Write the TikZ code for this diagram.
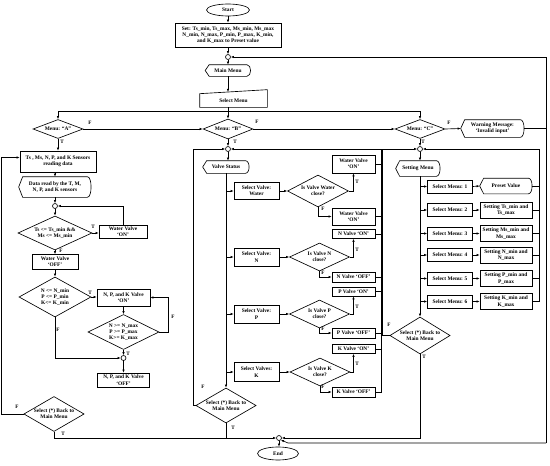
\documentclass[tikz,border=0pt]{standalone}
\usepackage{fontspec}
\setmainfont{Liberation Serif}
\usetikzlibrary{shapes.geometric,arrows.meta}

% display frame: pointed left end, rounded right end
\newcommand{\dispframe}[1]{%
  \draw (#1.west) -- ([xshift=4pt]#1.north west) -- ([xshift=-4pt]#1.north east)
    .. controls ([xshift=1pt]#1.north east) and ([xshift=1pt]#1.south east) .. ([xshift=-4pt]#1.south east)
    -- ([xshift=4pt]#1.south west) -- cycle;}
% manual input frame: slanted top
\newcommand{\manframe}[1]{%
  \draw (#1.south west) -- (#1.north west) -- ([yshift=4pt]#1.north east) -- (#1.south east) -- cycle;}

\begin{document}
\begin{tikzpicture}[
  font=\fontsize{5.4}{6.3}\selectfont\bfseries,
  x=1pt, y=-1pt,
  line width=0.65pt,
  box/.style={draw, align=center, inner sep=0.8pt},
  disp/.style={align=center, inner sep=0.8pt},
  dec/.style={draw, diamond, align=center, inner sep=0pt, aspect=2},
  term/.style={draw, ellipse, inner sep=0pt},
  jn/.style={draw, circle, fill=white, inner sep=0pt, minimum size=5pt},
  lbl/.style={inner sep=0pt, font=\fontsize{5.2}{6}\selectfont\bfseries},
  arr/.style={-{Latex[length=3pt,width=2.4pt]}}
]
\useasboundingbox (0,0) rectangle (550,466);

% ---- start and main menu ----
\node[term, minimum width=43pt, minimum height=12pt] (start) at (228,10) {Start};
\node[box, minimum width=106pt, minimum height=24pt] (preset) at (228,35)
  {Set: Ts\_min, Ts\_max, Ms\_min, Ms\_max\\N\_min, N\_max, P\_min, P\_max, K\_min,\\and K\_max to Preset value};
\node[jn] (j0) at (228,57) {};
\node[disp, minimum width=45pt, minimum height=11pt] (mainm) at (228,70.5) {Main Menu};
\dispframe{mainm}
\node[disp, minimum width=67pt, minimum height=13pt] (selm) at (233.5,100.5) {Select Menu};
\manframe{selm}
\coordinate (dist) at (228,111);

\draw[arr] (start) -- (preset);
\draw[arr] (preset) -- (j0);
\draw[arr] (j0) -- (mainm);
\draw[arr] (mainm.south) -- ([yshift=1.7pt]mainm.south |- selm.north);

% ---- menu choices (y = 129) ----
\node[dec, minimum width=50pt, minimum height=19pt] (mA) at (58,129) {Menu: ``A''};
\node[dec, minimum width=50pt, minimum height=20pt] (mB) at (228,129) {Menu: ``B''};
\node[dec, minimum width=50pt, minimum height=19pt] (mC) at (420,129) {Menu: ``C''};
\node[disp, minimum width=63pt, minimum height=17pt] (warn) at (492.5,128.5) {Warning Message:\\`Invalid input'};
\dispframe{warn}

\draw[arr] (mainm.south |- selm.south) -- (mB.north);
\draw[arr] (dist) -| (mA.north);
\draw[arr] (dist) -| (mC.north);
\draw[arr] (mA.east) -- (mB.west);
\draw[arr] (mB.east) -- (mC.west);
\draw[arr] (mC.east) -- (warn.west);
\node[lbl] (fA) at (90,123) {F};
\node[lbl] (fB) at (257,122) {F};
\node[lbl] (fC) at (449,123) {F};
\node[lbl] (tA) at (62,142) {T};
\node[lbl] (tB) at (235,142) {T};
\node[lbl] (tC) at (423,142) {T};

% ---- menu A: sensors ----
\node[box, minimum width=76pt, minimum height=21pt] (sens) at (58,161.5) {Ts , Ms, N, P, and K Sensors\\reading data};
\node[disp, minimum width=72pt, minimum height=20pt] (dread) at (55,187) {Data read by the T, M,\\N, P, and K sensors};
\dispframe{dread}
\node[jn] (j1) at (55,206) {};
\node[dec, minimum width=74pt, minimum height=34pt] (d1) at (55,233) {Ts <= Ts\_min \&\&\\Ms <= Ms\_min};
\node[box, minimum width=48pt, minimum height=13pt] (wvon) at (123,231.5) {Water Valve\\`ON'};
\node[box, minimum width=46pt, minimum height=15pt] (wvoff) at (55,262) {Water Valve\\`OFF'};
\node[dec, minimum width=72pt, minimum height=40pt] (d2) at (55,297) {N <= N\_min\\P <= P\_min\\K<= K\_min};
\node[box, minimum width=53pt, minimum height=17pt] (npkon) at (123.5,297.5) {N, P, and K Valve\\`ON'};
\node[dec, minimum width=71pt, minimum height=35pt] (d3) at (123.5,332) {N >= N\_max\\P >= P\_max\\K>= K\_max};
\node[jn] (j2) at (123.5,358) {};
\node[box, minimum width=52pt, minimum height=14pt] (npkoff) at (123.5,380) {N, P, and K Valve\\`OFF'};
\node[dec, minimum width=55pt, minimum height=35pt] (sel1) at (54,414) {Select (*) Back to\\Main Menu};

\draw[arr] (mA.south) -- (mA.south |- sens.north);
\draw[arr] (sens.south -| dread) -- (dread.north);
\draw[arr] (dread) -- (j1);
\draw[arr] (j1) -- (d1);
\draw[arr] (d1.east) -- (d1.east -| wvon.west);
\draw[arr] (wvon.north) |- (j1.east);
\draw[arr] (d1.south) -- (wvoff.north);
\draw[arr] (wvoff) -- (d2);
\draw[arr] (d2.east) -- (d2.east -| npkon.west);
\draw[arr] (npkon) -- (d3);
\draw[arr] (d3.east) -- ++(9,0) |- (npkon.east);
\draw[arr] (d3) -- (j2);
\draw[arr] (d2.south) |- (j2.west);
\draw[arr] (j2) -- (npkoff);
\draw[arr] (sel1.west) -- ++(-22,0) |- ([yshift=4pt]sens.west);
\node[lbl] (tD1) at (93,227) {T};
\node[lbl] (fD1) at (61,251) {F};
\node[lbl] (tD2) at (90,293) {T};
\node[lbl] (fD2) at (58,330) {F};
\node[lbl] (fD3) at (173,317) {F};
\node[lbl] (tD3) at (128,354) {T};
\node[lbl] (fS1) at (17,407) {F};
\node[lbl] (tS1) at (63,434) {T};

% ---- menu B: valve status ----
\node[jn] (jB) at (228,149) {};
\node[disp, minimum width=46pt, minimum height=12pt] (vstat) at (226,167) {Valve Status};
\dispframe{vstat}
\node[box, minimum width=45pt, minimum height=17pt] (sv1) at (256.5,191) {Select Valve:\\Water};
\node[box, minimum width=45pt, minimum height=18pt] (sv2) at (256.5,257) {Select Valve:\\N};
\node[box, minimum width=45pt, minimum height=18pt] (sv3) at (256.5,314) {Select Valve:\\P};
\node[box, minimum width=45pt, minimum height=19pt] (sv4) at (256.5,372) {Select Valves:\\K};
\node[dec, minimum width=61pt, minimum height=32pt] (dv1) at (318,191) {Is Valve Water\\close?};
\node[dec, minimum width=60pt, minimum height=28pt] (dv2) at (319.5,257) {Is Valve N\\close?};
\node[dec, minimum width=60pt, minimum height=28pt] (dv3) at (319.5,314) {Is Valve P\\close?};
\node[dec, minimum width=60pt, minimum height=28pt] (dv4) at (320,372) {Is Valve K\\close?};
\node[box, minimum width=43pt, minimum height=18pt] (on1) at (353.5,164) {Water Valve\\`ON'};
\node[box, minimum width=43pt, minimum height=17pt] (off1) at (353.5,216.5) {Water Valve\\`ON'};
\node[box, minimum width=43pt, minimum height=9pt] (on2) at (353.5,234) {N Valve `ON'};
\node[box, minimum width=43pt, minimum height=10pt] (off2) at (353.5,277) {N Valve `OFF'};
\node[box, minimum width=43pt, minimum height=9pt] (on3) at (353.5,291.5) {P Valve `ON'};
\node[box, minimum width=43pt, minimum height=10pt] (off3) at (353.5,333) {P Valve `OFF'};
\node[box, minimum width=43pt, minimum height=9pt] (on4) at (353.5,349) {K Valve `ON'};
\node[box, minimum width=43pt, minimum height=10pt] (off4) at (353.5,392) {K Valve `OFF'};
\node[dec, minimum width=56pt, minimum height=35pt] (selB) at (226,405.5) {Select (*) Back to\\Main Menu};
\coordinate (bcol) at (381,149);

\draw[arr] (mB) -- (jB);
\draw[arr] (jB.south) -- (jB.south |- vstat.north);
\draw[arr] (vstat.south) -- (selB.north);
\foreach \n in {1,2,3,4}
{
  \draw[arr] (vstat.south |- sv\n.west) -- (sv\n.west);
  \draw[arr] (sv\n.east) -- (dv\n.west);
  \draw[arr] (dv\n.east) -| (on\n.south);
  \draw[arr] (dv\n.south) |- (off\n.west);
  \draw (on\n.east) -- (on\n.east -| bcol);
}
\draw (off1.east) -- (off1.east -| bcol);
\draw (off2.east) -- (off2.east -| bcol);
\draw (off3.east) -- (off3.east -| bcol);
\draw[arr] (off4.east) -| (bcol) -- (jB.east);
\draw[arr] (selB.west) -- ++(-2,0) |- (jB.west);
\node[lbl] (tV1) at (357,182) {T};
\node[lbl] (fV1) at (323,209) {F};
\node[lbl] (tV2) at (357,250) {T};
\node[lbl] (fV2) at (323,273) {F};
\node[lbl] (tV3) at (357,307) {T};
\node[lbl] (fV3) at (323,329) {F};
\node[lbl] (tV4) at (357,364) {T};
\node[lbl] (fV4) at (323,387) {F};
\node[lbl] (fSB) at (203,387) {F};
\node[lbl] (tSB) at (233,428) {T};

% ---- menu C: settings ----
\node[jn] (jC) at (420,149) {};
\node[disp, minimum width=44pt, minimum height=15pt] (setm) at (418,168.5) {Setting Menu};
\dispframe{setm}
\foreach \n/\y in {1/186.5, 2/210, 3/233.5, 4/255, 5/278.5, 6/301.5}
  \node[box, minimum width=45pt, minimum height=13pt] (sm\n) at (450,\y) {Select Menu: \n};
\node[disp, minimum width=52pt, minimum height=15pt] (st1) at (506,186) {Preset Value};
\dispframe{st1}
\node[box, minimum width=52pt, minimum height=16pt] (st2) at (506,210) {Setting Ts\_min and\\Ts\_max};
\node[box, minimum width=52pt, minimum height=16pt] (st3) at (506,233.5) {Setting Ms\_min and\\Ms\_max};
\node[box, minimum width=52pt, minimum height=16pt] (st4) at (506,255) {Setting N\_min and\\N\_max};
\node[box, minimum width=52pt, minimum height=16pt] (st5) at (506,278.5) {Setting P\_min and\\P\_max};
\node[box, minimum width=52pt, minimum height=16pt] (st6) at (506,301.5) {Setting K\_min and\\K\_max};
\node[dec, minimum width=55pt, minimum height=37pt] (selC) at (420,335.5) {Select (*) Back to\\Main Menu};
\coordinate (ccol) at (539,149);

\draw[arr] (mC) -- (jC);
\draw[arr] (jC.south) -- (jC.south |- setm.north);
\draw[arr] (jC.south |- setm.south) -- (selC.north);
\foreach \n in {1,...,6}
{
  \draw[arr] (jC.south |- sm\n.west) -- (sm\n.west);
  \draw[arr] (sm\n.east) -- (st\n.west);
}
\foreach \n in {1,...,5}
  \draw (st\n.east) -- (st\n.east -| ccol);
\draw[arr] (st6.east) -| (ccol) -- (jC.east);
\draw[arr] (selC.west) -- ++(-7,0) |- (jC.west);
\node[lbl] (fSC) at (389,325) {F};
\node[lbl] (tSC) at (424,357) {T};

% ---- end and outer return line ----
\node[jn] (jend) at (279,438) {};
\node[term, minimum width=41pt, minimum height=13pt] (endn) at (278,453.5) {End};
\coordinate (rtop) at (546,57);
\coordinate (rbot) at (546,443);

\draw[arr] (sel1.south) |- (jend.west);
\draw (selB.south) -- (selB.south |- jend);
\draw[arr] (selC.south) |- (jend.east);
\draw[arr] (jend.south) -- (jend.south |- endn.north);
\draw (warn.east) -- (warn.east -| rtop);
\draw[arr] (rbot) -- (rtop) -- (j0.east);
\draw[arr] (rbot) -- (288,443) -- (jend.south east);
\end{tikzpicture}
\end{document}
